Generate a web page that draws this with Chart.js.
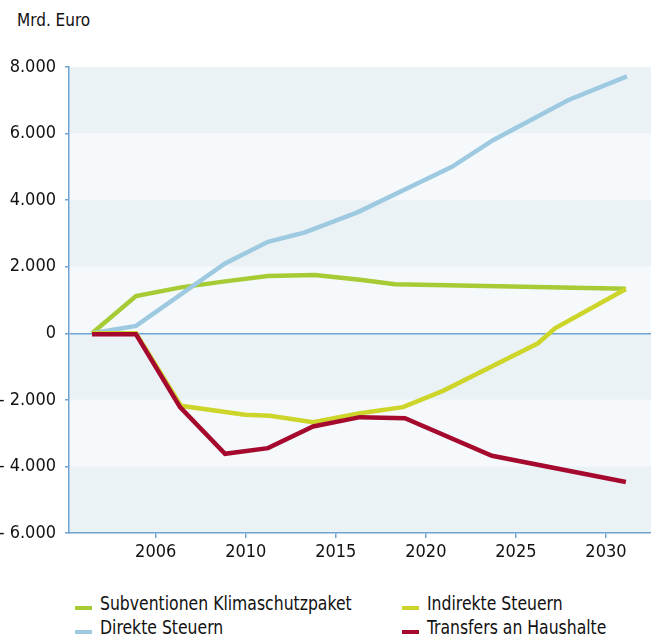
<!DOCTYPE html>
<html lang="de">
<head>
<meta charset="utf-8">
<script src="https://cdn.jsdelivr.net/npm/chart.js"></script>
<style>
  html, body { margin: 0; padding: 0; background: #fff; }
  #wrap { position: relative; width: 651px; height: 637px; overflow: hidden; }
  #unit { position: absolute; left: 17px; top: 12px; font: 17px/17px "DejaVu Sans Condensed", sans-serif; color: #111; }
  #chartBox { position: absolute; left: 0; top: 0; width: 651px; height: 580px; }
  #legend { position: absolute; left: 75px; top: 593px; display: grid; grid-template-columns: 327px auto; row-gap: 3px;
            font: 20px/21px "DejaVu Sans Condensed", sans-serif; color: #111; }
  #legend .item { white-space: nowrap; }
  #legend .mark { display: inline-block; width: 17px; height: 4px; margin-right: 8px; vertical-align: baseline; }
  #legend .txt { display: inline-block; transform: scaleX(0.87); transform-origin: left center; }
</style>
</head>
<body>
<div id="wrap">
  <div id="unit">Mrd. Euro</div>
  <div id="chartBox"><canvas id="chart" width="651" height="580"></canvas></div>
  <div id="legend"></div>
</div>
<script>
// --- Data (x in axis-tick units: 0 = "2006", 1 = "2010", 2 = "2015", ...) ---
const tickLabels = ["2006", "2010", "2015", "2020", "2025", "2030"];
const tickPos = [0, 1, 2, 3, 4, 5];

const subvX = [-0.707, -0.219, 0.281, 0.770, 1.247, 1.769, 2.291, 2.657, 5.221];
const subvY = [0, 1120, 1380, 1560, 1720, 1750, 1600, 1470, 1340];

const direktX = [-0.707, -0.219, 0.770, 1.247, 1.658, 2.246, 3.290, 3.745, 4.578, 5.232];
const direktY = [0, 220, 2100, 2750, 3030, 3640, 5000, 5800, 7000, 7720];

const indirektX = [-0.707, -0.219, 0.281, 0.992, 1.269, 1.747, 2.269, 2.746, 3.190, 4.245, 4.434, 5.221];
const indirektY = [0, 0, -2180, -2450, -2480, -2670, -2400, -2220, -1730, -300, 150, 1330];

const transferX = [-0.707, -0.219, 0.270, 0.770, 1.247, 1.747, 2.269, 2.768, 3.734, 5.221];
const transferY = [-30, -30, -2220, -3620, -3450, -2800, -2520, -2550, -3680, -4470];

const axisBlue = "#6ea3d2";
const tickFont = { family: "'DejaVu Sans Condensed', sans-serif", size: 18 };

function toPoints(xs, ys) {
  return xs.map((x, i) => ({ x: x, y: ys[i] }));
}

function formatThousands(v) {
  if (v === 0) return "0";
  const s = String(Math.abs(v)).replace(/\B(?=(\d{3})+(?!\d))/g, ".");
  return (v < 0 ? "- " : "") + s;
}

// alternating background bands between y ticks
const bandPlugin = {
  id: "bands",
  beforeDraw(chart) {
    const { ctx, chartArea, scales } = chart;
    const ticks = scales.y.ticks.map((t) => t.value).sort((a, b) => b - a);
    ctx.save();
    for (let i = 0; i < ticks.length - 1; i++) {
      const top = scales.y.getPixelForValue(ticks[i]);
      const bottom = scales.y.getPixelForValue(ticks[i + 1]);
      ctx.fillStyle = i % 2 === 0 ? "#ebf2f6" : "#f5f9fb";
      ctx.fillRect(chartArea.left, top, chartArea.right - chartArea.left, bottom - top);
    }
    ctx.restore();
  },
};

const lineDefaults = { borderWidth: 4.5, pointRadius: 0, tension: 0, fill: false };

const chart = new Chart(document.getElementById("chart").getContext("2d"), {
  type: "line",
  data: {
    datasets: [
      { label: "Subventionen Klimaschutzpaket", data: toPoints(subvX, subvY), borderColor: "#a6cb35", order: 4, ...lineDefaults },
      { label: "Direkte Steuern", data: toPoints(direktX, direktY), borderColor: "#9ecae1", order: 3, ...lineDefaults },
      { label: "Indirekte Steuern", data: toPoints(indirektX, indirektY), borderColor: "#cdd52b", order: 2, ...lineDefaults },
      { label: "Transfers an Haushalte", data: toPoints(transferX, transferY), borderColor: "#a50a2e", order: 1, ...lineDefaults },
    ],
  },
  options: {
    responsive: false,
    animation: false,
    layout: { padding: { top: 67, right: 0, bottom: 0, left: 0 } },
    plugins: { legend: { display: false }, tooltip: { enabled: false }, title: { display: false } },
    scales: {
      x: {
        type: "linear",
        min: -0.963,
        max: 5.5,
        afterBuildTicks: (s) => { s.ticks = tickPos.map((v) => ({ value: v })); },
        afterFit: (s) => { s.height = 47; },
        ticks: {
          autoSkip: false,
          maxRotation: 0,
          padding: 4,
          font: tickFont,
          color: "#111",
          callback: (v) => tickLabels[tickPos.indexOf(v)],
        },
        grid: { drawOnChartArea: false, tickColor: axisBlue, tickLength: 5, lineWidth: 1.5 },
        border: { color: axisBlue, width: 1.5 },
      },
      y: {
        min: -6000,
        max: 8000,
        afterFit: (s) => { s.width = 69; },
        ticks: { stepSize: 2000, padding: 9, font: tickFont, color: "#111", callback: (v) => formatThousands(v) },
        grid: {
          color: (c) => (c.tick && c.tick.value === 0 ? axisBlue : "rgba(0,0,0,0)"),
          lineWidth: 1.5,
          tickColor: axisBlue,
          tickLength: 4,
        },
        border: { color: axisBlue, width: 1.5 },
      },
    },
  },
  plugins: [bandPlugin],
});

// --- HTML legend, two columns ---
const legendEl = document.getElementById("legend");
[0, 2, 1, 3].forEach((i) => {
  const ds = chart.data.datasets[i];
  const item = document.createElement("div");
  item.className = "item";
  const mark = document.createElement("span");
  mark.className = "mark";
  mark.style.background = ds.borderColor;
  const txt = document.createElement("span");
  txt.className = "txt";
  txt.textContent = ds.label;
  item.appendChild(mark);
  item.appendChild(txt);
  legendEl.appendChild(item);
});
</script>
</body>
</html>
